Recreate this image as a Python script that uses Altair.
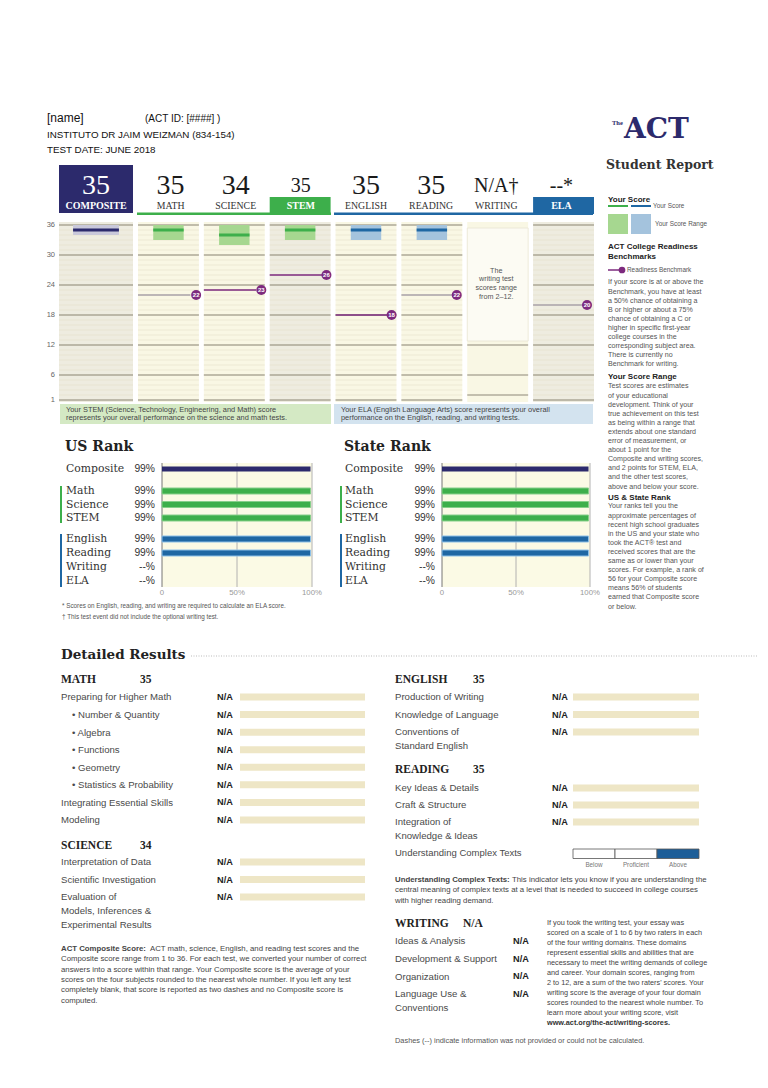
import altair as alt
import pandas as pd

# ------------------------------------------------------------------ data
student_name = "[name]"
act_id = "(ACT ID: [####]     )"
school = "INSTITUTO DR JAIM WEIZMAN (834-154)"
test_date = "TEST DATE:  JUNE 2018"

subjects = ["COMPOSITE", "MATH", "SCIENCE", "STEM", "ENGLISH", "READING", "WRITING", "ELA"]
score_text = ["35", "35", "34", "35", "35", "35", "N/A\u2020", "--*"]
score_value = [35, 35, 34, 35, 35, 35, None, None]
range_low = [34, 33, 32, 33, 33, 33, None, None]
range_high = [36, 36, 36, 36, 36, 36, None, None]
benchmark = [None, 22, 23, 26, 18, 22, None, 20]
score_ticks = [36, 30, 24, 18, 12, 6, 1]
writing_ticks = [12, 6, 2]
score_points = list(range(1, 37))

rank_rows = ["Composite", "Math", "Science", "STEM", "English", "Reading", "Writing", "ELA"]
us_rank = [99, 99, 99, 99, 99, 99, None, None]
state_rank = [99, 99, 99, 99, 99, 99, None, None]
rank_ticks = [0, 50, 100]
rank_tick_labels = ["0", "50%", "100%"]

math_rows = ["Preparing for Higher Math", "\u2022 Number & Quantity", "\u2022 Algebra", "\u2022 Functions",
             "\u2022 Geometry", "\u2022 Statistics & Probability", "Integrating Essential Skills", "Modeling"]
math_vals = ["N/A"] * 8
science_rows = ["Interpretation of Data", "Scientific Investigation",
                "Evaluation of\nModels, Inferences &\nExperimental Results"]
science_vals = ["N/A"] * 3
english_rows = ["Production of Writing", "Knowledge of Language", "Conventions of\nStandard English"]
english_vals = ["N/A"] * 3
reading_rows = ["Key Ideas & Details", "Craft & Structure", "Integration of\nKnowledge & Ideas"]
reading_vals = ["N/A"] * 3
writing_rows = ["Ideas & Analysis", "Development & Support", "Organization", "Language Use &\nConventions"]
writing_vals = ["N/A"] * 4
uct_levels = ["Below", "Proficient", "Above"]
uct_result = "Above"

writing_note = "The\nwriting test\nscores range\nfrom 2\u201312."
stem_note = ("Your STEM (Science, Technology, Engineering, and Math) score\n"
             "represents your overall performance on the science and math tests.")
ela_note = ("Your ELA (English Language Arts) score represents your overall\n"
            "performance on the English, reading, and writing tests.")
foot1 = "* Scores on English, reading, and writing are required to calculate an ELA score."
foot2 = "\u2020 This test event did not include the optional writing test."

side_p1 = ("If your score is at or above the\nBenchmark, you have at least\na 50% chance of obtaining a\n"
           "B or higher or about a 75%\nchance of obtaining a C or\nhigher in specific first-year\n"
           "college courses in the\ncorresponding subject area.\nThere is currently no\nBenchmark for writing.")
side_p2 = ("Test scores are estimates\nof your educational\ndevelopment. Think of your\ntrue achievement on this test\n"
           "as being within a range that\nextends about one standard\nerror of measurement, or\nabout 1 point for the\n"
           "Composite and writing scores,\nand 2 points for STEM, ELA,\nand the other test scores,\nabove and below your score.")
side_p3 = ("Your ranks tell you the\napproximate percentages of\nrecent high school graduates\nin the US and your state who\n"
           "took the ACT\u00ae test and\nreceived scores that are the\nsame as or lower than your\nscores. For example, a rank of\n"
           "56 for your Composite score\nmeans 56% of students\nearned that Composite score\nor below.")

comp_head = "ACT Composite Score:"
comp_first = "ACT math, science, English, and reading test scores and the"
comp_rest = ("Composite score range from 1 to 36. For each test, we converted your number of correct\n"
             "answers into a score within that range. Your Composite score is the average of your\n"
             "scores on the four subjects rounded to the nearest whole number. If you left any test\n"
             "completely blank, that score is reported as two dashes and no Composite score is\n"
             "computed.")
uct_head = "Understanding Complex Texts:"
uct_first = "This indicator lets you know if you are understanding the"
uct_rest = ("central meaning of complex texts at a level that is needed to succeed in college courses\n"
            "with higher reading demand.")
writing_par = ("If you took the writing test, your essay was\nscored on a scale of 1 to 6 by two raters in each\n"
               "of the four writing domains. These domains\nrepresent essential skills and abilities that are\n"
               "necessary to meet the writing demands of college\nand career. Your domain scores, ranging from\n"
               "2 to 12, are a sum of the two raters' scores. Your\nwriting score is the average of your four domain\n"
               "scores rounded to the nearest whole number. To\nlearn more about your writing score, visit")
writing_link = "www.act.org/the-act/writing-scores."
dashes_note = "Dashes (--) indicate information was not provided or could not be calculated."

# ------------------------------------------------------------------ style
SANS = "Liberation Sans"
SERIF = "Liberation Serif"
SLAB = "DejaVu Serif"
NAVY = "#2c2a6c"
GREEN = "#3daf4b"
GREEN_L = "#a6d790"
BLUE = "#1f67a3"
BLUE_L = "#a4c3dd"
PURPLE = "#7d2a7e"
GRAYLINE = "#aaa3aa"
CREAM = "#f9f7e4"
SHADE = "#eeece0"
MINOR = "#e2dcc3"
MAJOR = "#8e8878"
TXT = "#3a3a3a"
TAN = "#eee6c6"

OFF = 8


def P(v):
    return v - OFF


ONE = pd.DataFrame({"k": [0]})
layers = []


def T(text, x, y, size=8.0, font=SANS, color=TXT, weight="normal", align="left", lh=None):
    kw = dict(text=text, font=font, fontSize=size, color=color, fontWeight=weight,
              align=align, baseline="alphabetic")
    if "\n" in text:
        kw["lineBreak"] = "\n"
        kw["lineHeight"] = lh or size * 1.3
    layers.append(alt.Chart(ONE).mark_text(**kw).encode(
        x=alt.value(P(x)), y=alt.value(P(y + 0.35 * size))))


def R(x0, y0, x1, y1, fill, stroke=None, sw=1.0):
    kw = dict(fill=fill)
    if stroke:
        kw.update(stroke=stroke, strokeWidth=sw)
    layers.append(alt.Chart(ONE).mark_rect(**kw).encode(
        x=alt.value(P(x0)), x2=alt.value(P(x1)), y=alt.value(P(y0)), y2=alt.value(P(y1))))


def H(x0, x1, y, color, sw=1.0, dash=None):
    kw = dict(color=color, strokeWidth=sw)
    if dash:
        kw["strokeDash"] = dash
    layers.append(alt.Chart(ONE).mark_rule(**kw).encode(
        x=alt.value(P(x0)), x2=alt.value(P(x1)), y=alt.value(P(y))))


# ------------------------------------------------------------------ header
T(student_name, 47, 118, size=12, color="#111")
T(act_id, 145, 118, size=10, color="#111")
T(school, 47, 135, size=9.8, color="#111")
T(test_date, 47, 150, size=9.8, color="#111")

# ------------------------------------------------------------------ score panel
panel = pd.DataFrame({"subj": subjects, "num": score_text, "score": score_value,
                      "lo": range_low, "hi": range_high, "bench": benchmark})
ysc = alt.Scale(domain=[1, 36], range=[P(400), P(225)], nice=False, zero=False)
grid_minor = pd.DataFrame([(s, v) for s in subjects if s != "WRITING" for v in score_points],
                          columns=["subj", "v"])
grid_major = pd.DataFrame([(s, v) for s in subjects if s != "WRITING" for v in score_ticks]
                          + [("WRITING", v) for v in writing_ticks], columns=["subj", "v"])


def oneof(dom, field="subj"):
    return alt.FieldOneOfPredicate(field=field, oneOf=dom)


def band(dom, r0, r1, pin):
    n = len(dom)
    step = (r1 - r0) / max(1, n - pin)
    return alt.Scale(domain=dom, range=[P(r0), P(r1)], paddingInner=pin, paddingOuter=0), step * (1 - pin)


dark_scale = alt.Scale(domain=subjects, range=[NAVY, GREEN, GREEN, GREEN, BLUE, BLUE, BLUE, BLUE])
light_scale = alt.Scale(domain=subjects, range=["#c9c8da", GREEN_L, GREEN_L, GREEN_L, BLUE_L, BLUE_L, BLUE_L, BLUE_L])
shade_test = "datum.subj == 'COMPOSITE' || datum.subj == 'STEM' || datum.subj == 'ELA'"
purple_test = "datum.subj == 'SCIENCE' || datum.subj == 'STEM' || datum.subj == 'ENGLISH'"
small_test = "datum.subj == 'STEM' || datum.subj == 'WRITING' || datum.subj == 'ELA'"

# underlines under subject labels
R(137, 212.5, 331, 215, GREEN)
R(334, 212.5, 593, 215, BLUE)

groups = [(["COMPOSITE"], 59, 133, 0.0, 0.62), (subjects[1:], 138, 594, 0.075, 0.5)]
for dom, r0, r1, pin, frac in groups:
    xs, bw = band(dom, r0, r1, pin)
    xe = alt.X("subj:N", scale=xs, axis=None)
    base = alt.Chart(panel).transform_filter(oneof(dom))

    # column backgrounds
    layers.append(base.transform_calculate(top="36.6", bot="0.6").mark_rect().encode(
        x=xe, y=alt.Y("top:Q", scale=ysc, axis=None), y2="bot:Q",
        color=alt.condition(shade_test, alt.value(SHADE), alt.value(CREAM))))
    # grid
    layers.append(alt.Chart(grid_minor).transform_filter(oneof(dom)).mark_tick(
        size=bw, thickness=0.7, color=MINOR, opacity=1).encode(
        x=xe, y=alt.Y("v:Q", scale=ysc, axis=None)))
    layers.append(alt.Chart(grid_major).transform_filter(oneof(dom)).mark_tick(
        size=bw, thickness=1.0, color=MAJOR, opacity=1).encode(
        x=xe, y=alt.Y("v:Q", scale=ysc, axis=None)))

    if "WRITING" in dom:
        wb = base.transform_filter("datum.subj == 'WRITING'")
        layers.append(wb.mark_rect(fill="#fcfbf3", stroke="#e9e5d2", strokeWidth=0.8).encode(
            x=xe, y=alt.value(P(228)), y2=alt.value(P(341))))
        layers.append(wb.mark_text(text=writing_note, lineBreak="\n", lineHeight=8.8, fontSize=7.2,
                                   font=SANS, color="#555", baseline="alphabetic").encode(
            x=xe, y=alt.value(P(272.5))))

    # score ranges
    layers.append(base.transform_filter("isValid(datum.lo)").mark_bar(
        width=alt.RelativeBandSize(frac)).encode(
        x=xe, y=alt.Y("lo:Q", scale=ysc, axis=None), y2="hi:Q",
        color=alt.Color("subj:N", scale=light_scale, legend=None)))
    # scores
    layers.append(base.transform_filter("isValid(datum.score)").mark_tick(
        size=bw * frac, thickness=3, opacity=1).encode(
        x=xe, y=alt.Y("score:Q", scale=ysc, axis=None),
        color=alt.Color("subj:N", scale=dark_scale, legend=None)))
    # benchmarks
    bb = base.transform_filter("isValid(datum.bench)")
    layers.append(bb.mark_tick(size=bw * 0.86, thickness=1.6, xOffset=-bw * 0.07, opacity=1).encode(
        x=xe, y=alt.Y("bench:Q", scale=ysc, axis=None),
        color=alt.condition(purple_test, alt.value(PURPLE), alt.value(GRAYLINE))))
    layers.append(bb.mark_circle(size=100, opacity=1, color=PURPLE, xOffset=bw * 0.42).encode(
        x=xe, y=alt.Y("bench:Q", scale=ysc, axis=None)))
    layers.append(bb.mark_text(xOffset=bw * 0.42, fontSize=6, font=SANS, fontWeight="bold",
                               color="white", baseline="middle").encode(
        x=xe, y=alt.Y("bench:Q", scale=ysc, axis=None), text=alt.Text("bench:Q", format="d")))

    # header boxes
    if "COMPOSITE" in dom:
        layers.append(base.mark_rect(color=NAVY).encode(
            x=xe, y=alt.value(P(165)), y2=alt.value(P(213))))
    else:
        layers.append(base.transform_filter(oneof(["STEM", "ELA"])).mark_rect().encode(
            x=xe, y=alt.value(P(197)), y2=alt.value(P(214)),
            color=alt.condition("datum.subj == 'STEM'", alt.value(GREEN), alt.value(BLUE))))
    # header numbers
    layers.append(base.mark_text(font=SERIF, baseline="middle", align="center").encode(
        x=xe, y=alt.value(P(186)), text="num:N",
        size=alt.condition(small_test, alt.value(20), alt.value(28)),
        color=alt.condition("datum.subj == 'COMPOSITE'", alt.value("white"), alt.value("#1a1a1a"))))
    # header labels
    layers.append(base.transform_filter(shade_test).mark_text(
        font=SERIF, fontWeight="bold", fontSize=10, color="white", baseline="middle").encode(
        x=xe, y=alt.value(P(205.5)), text="subj:N"))
    layers.append(base.transform_filter("!(" + shade_test + ")").mark_text(
        font=SERIF, fontSize=9.8, color="#333", baseline="middle").encode(
        x=xe, y=alt.value(P(205.5)), text="subj:N"))

# y-axis labels of the score panel
layers.append(alt.Chart(pd.DataFrame({"v": score_ticks})).mark_text(
    font=SANS, fontSize=7.5, color="#666", align="right", baseline="middle").encode(
    x=alt.value(P(55)), y=alt.Y("v:Q", scale=ysc, axis=None), text="v:Q"))

# notes under the panel
R(60, 404, 331, 424, "#d4e9c4")
R(334, 404, 593, 424, "#d3e3ef")
T(stem_note, 66, 409, size=7.4, color="#444", lh=8.8)
T(ela_note, 341, 409, size=7.4, color="#444", lh=8.8)

# ------------------------------------------------------------------ ranks
rank_groups = [(["Composite"], 469, 469, NAVY, 5, None),
               (["Math", "Science", "STEM"], 491, 518, GREEN, 6, "#86cf8a"),
               (["English", "Reading", "Writing", "ELA"], 539, 581, BLUE, 6, "#8cc0e8")]


def rank_section(vals, title, x_title, x_pct, p0, p1, x_side):
    T(title, x_title, 446, size=14, font=SLAB, weight="bold", color="#222")
    xs = alt.Scale(domain=[0, 100], range=[P(p0), P(p1)], nice=False, zero=False)
    layers.append(alt.Chart(ONE).transform_calculate(a="0", b="100").mark_rect(color="#fbfae5").encode(
        x=alt.X("a:Q", scale=xs, axis=None), x2="b:Q", y=alt.value(P(463)), y2=alt.value(P(587))))
    ticks = pd.DataFrame({"v": rank_ticks, "lab": rank_tick_labels})
    layers.append(alt.Chart(ticks).mark_rule(strokeWidth=0.9).encode(
        x=alt.X("v:Q", scale=xs, axis=None), y=alt.value(P(463)), y2=alt.value(P(587)),
        color=alt.condition("datum.v == 0", alt.value("#666"), alt.value("#a9a9a9"))))
    layers.append(alt.Chart(ticks).mark_text(font=SANS, fontSize=7.8, color="#999", baseline="middle").encode(
        x=alt.X("v:Q", scale=xs, axis=None), y=alt.value(P(593)), text="lab:N"))
    df = pd.DataFrame({"row": rank_rows, "v": vals,
                       "pct": [f"{v}%" if v is not None else "--%" for v in vals]})
    for names, c0, c1, col, h, edge in rank_groups:
        ys = alt.Scale(type="point", domain=names, range=[P(c0), P(c1)], padding=0)
        ye = alt.Y("row:N", scale=ys, axis=None)
        g = alt.Chart(df).transform_filter(oneof(names, "row"))
        kw = dict(height=h, color=col)
        if edge:
            kw.update(stroke=edge, strokeWidth=1)
        layers.append(g.transform_filter("isValid(datum.v)").transform_calculate(z="0").mark_bar(**kw).encode(
            x=alt.X("v:Q", scale=xs, axis=None), x2="z:Q", y=ye))
        layers.append(g.mark_text(align="left", font=SLAB, fontSize=10.8, color="#333", baseline="middle").encode(
            x=alt.value(P(x_title + 1)), y=ye, text="row:N"))
        layers.append(g.mark_text(align="right", font=SANS, fontSize=10.3, color="#333", baseline="middle").encode(
            x=alt.value(P(x_pct)), y=ye, text="pct:N"))
    R(x_side, 486, x_side + 2, 523, GREEN)
    R(x_side, 534, x_side + 2, 587, BLUE)


rank_section(us_rank, "US Rank", 65, 155, 162, 312, 60)
rank_section(state_rank, "State Rank", 344, 435, 442, 590, 340)
T(foot1, 62, 606, size=6.3, color="#555")
T(foot2, 62, 617, size=6.3, color="#555")

# ------------------------------------------------------------------ sidebar
T("The", 612, 123, size=6.5, font=SERIF, color=NAVY, weight="bold")
T("ACT", 624, 128, size=28, font=SLAB, color=NAVY, weight="bold")
T("Student Report", 606, 165, size=12.5, font=SLAB, color="#333", weight="bold")
T("Your Score", 608, 199, size=8.0, weight="bold", color="#222")
H(608, 628, 206, GREEN, 2)
H(631, 651, 206, BLUE, 2)
T("Your Score", 653, 206, size=6.4, color="#555")
R(608, 214, 628, 234, GREEN_L)
R(631, 214, 651, 234, BLUE_L)
T("Your Score Range", 655, 224, size=6.4, color="#555")
T("ACT College Readiness\nBenchmarks", 608, 246, size=8.0, weight="bold", color="#222", lh=10)
H(608, 621, 270, PURPLE, 1.5)
layers.append(alt.Chart(ONE).mark_circle(size=45, color=PURPLE, opacity=1).encode(
    x=alt.value(P(622)), y=alt.value(P(270))))
T("Readiness Benchmark", 627, 270, size=6.4, color="#555")
T(side_p1, 608, 282, size=7.1, color="#555", lh=9.1)
T("Your Score Range", 608, 376, size=8.0, weight="bold", color="#222")
T(side_p2, 608, 386, size=7.1, color="#555", lh=9.1)
T("US & State Rank", 608, 497, size=8.0, weight="bold", color="#222")
T(side_p3, 608, 506, size=7.1, color="#555", lh=9.1)

# ------------------------------------------------------------------ detailed results
T("Detailed Results", 61, 654, size=13.5, font=SLAB, weight="bold", color="#222")
H(191, 757, 656, "#aaaaaa", 0.8, [1, 1.5])


def detail(title, score, rows, vals, x0, y_title, x_score, y0, y1, x_na, bar=None):
    T(title, x0, y_title, size=11.5, font=SERIF, weight="bold", color="#222")
    T(score, x_score, y_title, size=11.5, font=SERIF, weight="bold", color="#222")
    df = pd.DataFrame({"row": rows, "val": vals})
    ys = alt.Scale(type="point", domain=rows, range=[P(y0), P(y1)], padding=0)
    ye = alt.Y("row:N", scale=ys, axis=None)
    fs = 9.6
    lab = dict(align="left", baseline="alphabetic", dy=0.35 * fs, font=SANS, fontSize=fs,
               color="#4a4a4a", lineBreak="\n", lineHeight=14)
    layers.append(alt.Chart(df).transform_filter("indexof(datum.row, '\u2022') != 0").mark_text(**lab).encode(
        x=alt.value(P(x0)), y=ye, text="row:N"))
    layers.append(alt.Chart(df).transform_filter("indexof(datum.row, '\u2022') == 0").mark_text(**lab).encode(
        x=alt.value(P(x0 + 11)), y=ye, text="row:N"))
    layers.append(alt.Chart(df).mark_text(align="left", baseline="middle", font=SANS, fontSize=9.2,
                                          fontWeight="bold", color="#222").encode(
        x=alt.value(P(x_na)), y=ye, text="val:N"))
    if bar:
        layers.append(alt.Chart(df).mark_rule(strokeWidth=7, color=TAN).encode(
            x=alt.value(P(bar[0])), x2=alt.value(P(bar[1])), y=ye))


detail("MATH", "35", math_rows, math_vals, 61, 679, 140, 697, 820, 217, (240, 365))
detail("SCIENCE", "34", science_rows, science_vals, 61, 845, 140, 862, 897, 217, (240, 365))
detail("ENGLISH", "35", english_rows, english_vals, 395, 679, 473, 697, 732, 552, (573, 699))
detail("READING", "35", reading_rows, reading_vals, 395, 769, 473, 788, 822, 552, (573, 699))
detail("WRITING", "N/A", writing_rows, writing_vals, 395, 923, 463, 941, 994, 513)

# understanding complex texts indicator
T("Understanding Complex Texts", 395, 853, size=9.5, color="#4a4a4a")
uct = pd.DataFrame({"lvl": uct_levels})
uxs = alt.Scale(domain=uct_levels, range=[P(573), P(699)], paddingInner=0, paddingOuter=0)
layers.append(alt.Chart(uct).mark_rect(stroke="#555", strokeWidth=0.8).encode(
    x=alt.X("lvl:N", scale=uxs, axis=None), y=alt.value(P(849)), y2=alt.value(P(858.5)),
    color=alt.condition(f"datum.lvl == '{uct_result}'", alt.value("#1d5e98"), alt.value("white"))))
layers.append(alt.Chart(uct).mark_text(font=SANS, fontSize=6.3, color="#777", baseline="middle").encode(
    x=alt.X("lvl:N", scale=uxs, axis=None), y=alt.value(P(864.5)), text="lvl:N"))

# paragraphs
T(uct_head, 395, 879, size=7.8, weight="bold", color="#444")
T(uct_first, 512, 879, size=7.8, color="#444")
T(uct_rest, 395, 889.5, size=7.8, color="#444", lh=10.8)
T(comp_head, 61, 948, size=7.8, weight="bold", color="#444")
T(comp_first, 150, 948, size=7.8, color="#444")
T(comp_rest, 61, 958.5, size=7.8, color="#444", lh=10.4)
T(writing_par, 547, 922, size=7.3, color="#444", lh=10)
T(writing_link, 547, 1022, size=7.3, weight="bold", color="#333")
T(dashes_note, 395, 1040, size=7.4, color="#555")

# ------------------------------------------------------------------ assemble
chart = alt.layer(*layers).resolve_scale(
    x="independent", y="independent", color="independent", size="independent"
).properties(
    width=752, height=1072, autosize=alt.AutoSizeParams(type="none"), padding=0, background="white"
).configure_view(stroke=None)

chart.save("out.html", embed_options={"renderer": "svg", "actions": False})
